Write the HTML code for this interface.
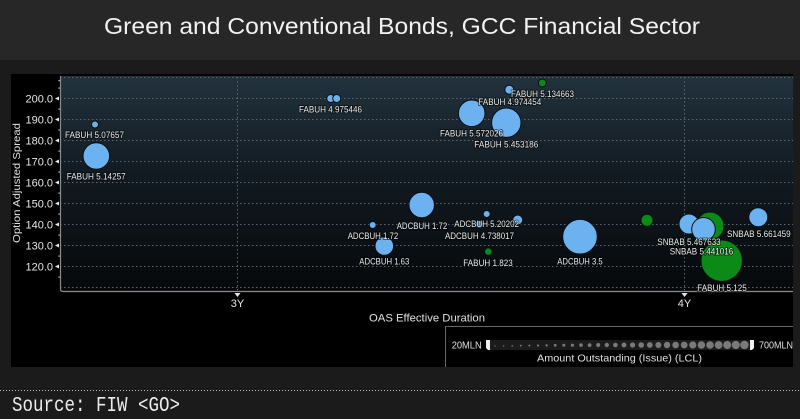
<!DOCTYPE html>
<html><head><meta charset="utf-8"><style>
html,body{margin:0;padding:0;background:#1b1b1b;}
svg{display:block;}
</style></head><body>
<svg width="800" height="419" viewBox="0 0 800 419" xmlns="http://www.w3.org/2000/svg" font-family="Liberation Sans, sans-serif">
<defs>
<linearGradient id="pg" x1="0" y1="0" x2="0" y2="1">
<stop offset="0" stop-color="#22323d"/>
<stop offset="0.45" stop-color="#121b22"/>
<stop offset="1" stop-color="#06080a"/>
</linearGradient>
</defs>
<rect x="0" y="0" width="800" height="419" fill="#1b1b1b"/>
<rect x="0" y="0" width="800" height="60" fill="#272727"/>
<text x="104" y="34" font-size="23" fill="#f2f2f2" textLength="596" lengthAdjust="spacingAndGlyphs">Green and Conventional Bonds, GCC Financial Sector</text>

<!-- chart panel -->
<rect x="11" y="74" width="782" height="293" fill="#000"/>
<rect x="60" y="76" width="733" height="216" fill="url(#pg)"/>

<!-- grid -->
<g stroke="#5a6670" stroke-width="1" stroke-dasharray="1.5,2.5" fill="none">
<line x1="60" y1="77.5" x2="793" y2="77.5"/>
<line x1="60" y1="98.5" x2="793" y2="98.5"/>
<line x1="60" y1="119.5" x2="793" y2="119.5"/>
<line x1="60" y1="140.5" x2="793" y2="140.5"/>
<line x1="60" y1="161.5" x2="793" y2="161.5"/>
<line x1="60" y1="182.5" x2="793" y2="182.5"/>
<line x1="60" y1="203.5" x2="793" y2="203.5"/>
<line x1="60" y1="224.5" x2="793" y2="224.5"/>
<line x1="60" y1="245.5" x2="793" y2="245.5"/>
<line x1="60" y1="266.5" x2="793" y2="266.5"/>
<line x1="60" y1="287.5" x2="793" y2="287.5"/>
<line x1="237.5" y1="77" x2="237.5" y2="291"/>
<line x1="684.5" y1="77" x2="684.5" y2="291"/>
</g>

<!-- axes -->
<path d="M60.5 76 V289 Q60.5 291.5 63 291.5 H793" stroke="#8a8a8a" stroke-width="1.2" fill="none"/>

<!-- y ticks -->
<g fill="#e6e6e6">
<path d="M55 98.5 L59 96.5 L59 100.5Z"/>
<path d="M55 119.5 L59 117.5 L59 121.5Z"/>
<path d="M55 140.5 L59 138.5 L59 142.5Z"/>
<path d="M55 161.5 L59 159.5 L59 163.5Z"/>
<path d="M55 182.5 L59 180.5 L59 184.5Z"/>
<path d="M55 203.5 L59 201.5 L59 205.5Z"/>
<path d="M55 224.5 L59 222.5 L59 226.5Z"/>
<path d="M55 245.5 L59 243.5 L59 247.5Z"/>
<path d="M55 266.5 L59 264.5 L59 268.5Z"/>
<rect x="58.5" y="80" width="1.2" height="1.2"/>
<rect x="58.5" y="87.5" width="1.2" height="1.2"/>
<rect x="58.5" y="108.5" width="1.2" height="1.2"/>
<rect x="58.5" y="129.5" width="1.2" height="1.2"/>
<rect x="58.5" y="150.5" width="1.2" height="1.2"/>
<rect x="58.5" y="171.5" width="1.2" height="1.2"/>
<rect x="58.5" y="192.5" width="1.2" height="1.2"/>
<rect x="58.5" y="213.5" width="1.2" height="1.2"/>
<rect x="58.5" y="234.5" width="1.2" height="1.2"/>
<rect x="58.5" y="255.5" width="1.2" height="1.2"/>
<rect x="58.5" y="276.5" width="1.2" height="1.2"/>
<path d="M234.5 293 L240.5 293 L237.5 297Z"/>
<path d="M681.5 293 L687.5 293 L684.5 297Z"/>
</g>
<g font-size="11" fill="#e6e6e6" text-anchor="end">
<text x="53" y="102.3">200.0</text>
<text x="53" y="123.3">190.0</text>
<text x="53" y="144.3">180.0</text>
<text x="53" y="165.3">170.0</text>
<text x="53" y="186.3">160.0</text>
<text x="53" y="207.3">150.0</text>
<text x="53" y="228.3">140.0</text>
<text x="53" y="249.3">130.0</text>
<text x="53" y="270.3">120.0</text>
</g>
<text transform="translate(20,183) rotate(-90)" font-size="10.5" fill="#e0e0e0" text-anchor="middle" textLength="120" lengthAdjust="spacingAndGlyphs">Option Adjusted Spread</text>
<g font-size="11" fill="#e6e6e6" text-anchor="middle">
<text x="237.5" y="307">3Y</text>
<text x="684.5" y="307">4Y</text>
</g>
<text x="369" y="321.5" font-size="11" fill="#e0e0e0" textLength="116" lengthAdjust="spacingAndGlyphs">OAS Effective Duration</text>

<!-- bubbles -->
<g stroke="#0a0f14" stroke-width="1">
<g fill="#6cb2f0">
<circle cx="95" cy="124.5" r="3.5"/>
<circle cx="96.3" cy="156" r="13.3"/>
<circle cx="330.7" cy="98.5" r="4"/>
<circle cx="336.7" cy="98.5" r="4"/>
<circle cx="509.3" cy="89.7" r="4.5"/>
<circle cx="471.7" cy="113.3" r="13.3"/>
<circle cx="506.3" cy="122.7" r="14.7"/>
<circle cx="421.7" cy="205" r="12.7"/>
<circle cx="372.7" cy="225" r="3.5"/>
<circle cx="384.3" cy="246" r="9.3"/>
<circle cx="486.7" cy="214" r="3.5"/>
<circle cx="479.3" cy="224.3" r="4"/>
<circle cx="517.7" cy="220" r="5"/>
<circle cx="580" cy="236.7" r="17.3"/>
<circle cx="689" cy="224" r="10"/>
</g>
<circle cx="542.3" cy="83" r="4" fill="#0c8a18"/>
<circle cx="488.3" cy="251.7" r="3.8" fill="#0c8a18"/>
<circle cx="647" cy="220.3" r="6" fill="#0c8a18"/>
<circle cx="710" cy="226" r="14" fill="#0c8a18"/>
<circle cx="703.5" cy="229.3" r="11.8" fill="#6cb2f0"/>
<circle cx="721.7" cy="260.7" r="20.7" fill="#0c8a18"/>
<circle cx="758.3" cy="217.3" r="9.5" fill="#6cb2f0"/>
</g>

<!-- labels -->
<g font-size="9.5" fill="#ececec" stroke="#000" stroke-width="2" stroke-opacity="0.55" paint-order="stroke" lengthAdjust="spacingAndGlyphs">
<text x="65" y="138" textLength="59" lengthAdjust="spacingAndGlyphs">FABUH 5.07657</text>
<text x="66.7" y="179.5" textLength="59" lengthAdjust="spacingAndGlyphs">FABUH 5.14257</text>
<text x="299" y="112.5" textLength="63" lengthAdjust="spacingAndGlyphs">FABUH 4.975446</text>
<text x="511" y="96.8" textLength="63" lengthAdjust="spacingAndGlyphs">FABUH 5.134663</text>
<text x="478.3" y="105" textLength="63" lengthAdjust="spacingAndGlyphs">FABUH 4.974454</text>
<text x="440" y="136.5" textLength="63" lengthAdjust="spacingAndGlyphs">FABUH 5.572026</text>
<text x="474.3" y="147.5" textLength="64" lengthAdjust="spacingAndGlyphs">FABUH 5.453186</text>
<text x="396.7" y="228.8" textLength="50.6" lengthAdjust="spacingAndGlyphs">ADCBUH 1.72</text>
<text x="347.7" y="239" textLength="50.6" lengthAdjust="spacingAndGlyphs">ADCBUH 1.72</text>
<text x="359.3" y="264.5" textLength="50" lengthAdjust="spacingAndGlyphs">ADCBUH 1.63</text>
<text x="454.3" y="226.8" textLength="64.7" lengthAdjust="spacingAndGlyphs">ADCBUH 5.20202</text>
<text x="445" y="239" textLength="69" lengthAdjust="spacingAndGlyphs">ADCBUH 4.738017</text>
<text x="463.3" y="265.8" textLength="49.4" lengthAdjust="spacingAndGlyphs">FABUH 1.823</text>
<text x="557.3" y="264.5" textLength="45.4" lengthAdjust="spacingAndGlyphs">ADCBUH 3.5</text>
<text x="727" y="236.8" textLength="63.7" lengthAdjust="spacingAndGlyphs">SNBAB 5.661459</text>
<text x="657.3" y="245" textLength="63.4" lengthAdjust="spacingAndGlyphs">SNBAB 5.467633</text>
<text x="669.7" y="254.5" textLength="63.6" lengthAdjust="spacingAndGlyphs">SNBAB 5.441016</text>
<text x="697.3" y="290.8" textLength="49.4" lengthAdjust="spacingAndGlyphs">FABUH 5.125</text>
</g>

<!-- legend -->
<path d="M445.5 367 V326.5 H793" stroke="#666" stroke-width="1" fill="none"/>
<text x="451.7" y="348.5" font-size="10" fill="#e0e0e0" textLength="30" lengthAdjust="spacingAndGlyphs">20MLN</text>
<rect x="489" y="340" width="263" height="10" fill="#1c1c1c"/>
<g fill="#7a7a7a">
<circle cx="495" cy="346" r="0.6"/>
<circle cx="503.6" cy="345.9" r="0.7"/>
<circle cx="512.2" cy="345.8" r="0.8"/>
<circle cx="520.8" cy="345.7" r="0.9"/>
<circle cx="529.4" cy="345.6" r="1.0"/>
<circle cx="538" cy="345.5" r="1.1"/>
<circle cx="546.6" cy="345.4" r="1.2"/>
<circle cx="555.2" cy="345.3" r="1.4"/>
<circle cx="563.8" cy="345.2" r="1.5"/>
<circle cx="572.4" cy="345.2" r="1.6"/>
<circle cx="581" cy="345.1" r="1.8"/>
<circle cx="589.6" cy="345.1" r="1.9"/>
<circle cx="598.2" cy="345" r="2.0"/>
<circle cx="606.8" cy="345" r="2.2"/>
<circle cx="615.4" cy="345" r="2.3"/>
<circle cx="624" cy="345" r="2.5"/>
<circle cx="632.6" cy="345" r="2.6"/>
<circle cx="641.2" cy="345" r="2.8"/>
<circle cx="649.8" cy="345" r="2.9"/>
<circle cx="658.4" cy="345" r="3.0"/>
<circle cx="667" cy="345" r="3.2"/>
<circle cx="675.6" cy="345" r="3.3"/>
<circle cx="684.2" cy="345" r="3.4"/>
<circle cx="692.8" cy="345" r="3.6"/>
<circle cx="701.4" cy="345" r="3.7"/>
<circle cx="710" cy="345" r="3.8"/>
<circle cx="718.6" cy="345" r="3.9"/>
<circle cx="727.2" cy="345" r="4.0"/>
<circle cx="735.8" cy="345" r="4.1"/>
<circle cx="744.4" cy="345" r="4.2"/>
</g>
<path d="M486 340 H490 V350 H488 L486 348Z" fill="#f0f0f0"/>
<path d="M750 340 H754 V348 L752 350 H750Z" fill="#f0f0f0"/>
<text x="759" y="348.5" font-size="10" fill="#e0e0e0" textLength="34" lengthAdjust="spacingAndGlyphs">700MLN</text>
<text x="537" y="361.3" font-size="10.5" fill="#e0e0e0" textLength="165" lengthAdjust="spacingAndGlyphs">Amount Outstanding (Issue) (LCL)</text>

<!-- footer -->
<line x1="0" y1="390.5" x2="800" y2="390.5" stroke="#bdbdbd" stroke-width="1" stroke-dasharray="1,2"/>
<text x="12" y="411" font-family="Liberation Mono, monospace" font-size="21" fill="#ececec" textLength="168" lengthAdjust="spacingAndGlyphs">Source: FIW &lt;GO&gt;</text>
</svg>
</body></html>
